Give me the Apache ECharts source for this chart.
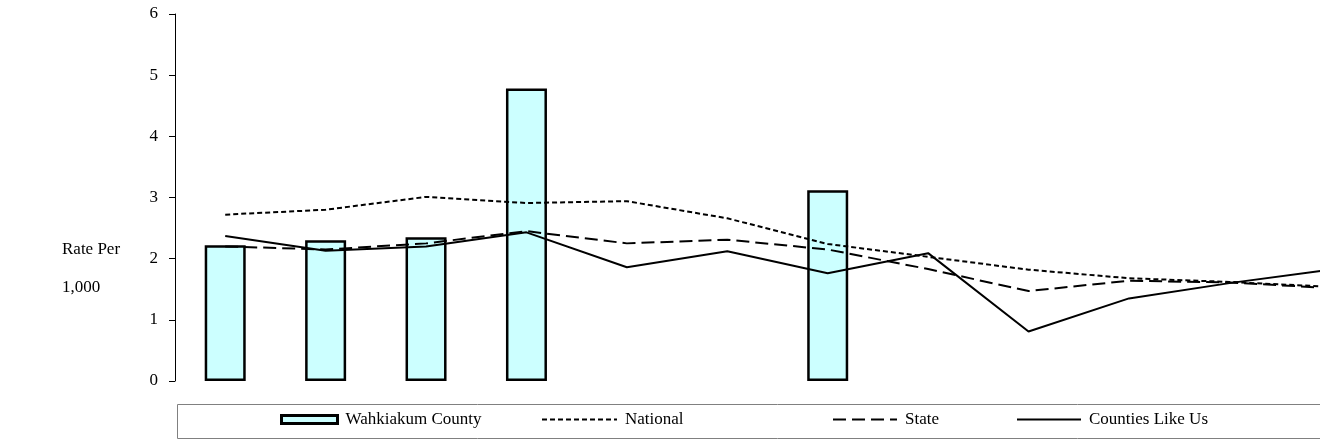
<!DOCTYPE html>
<html>
<head>
<meta charset="utf-8">
<script src="https://cdn.jsdelivr.net/npm/echarts@6/dist/echarts.min.js"></script>
<style>
  html, body { margin: 0; padding: 0; background: #fff; overflow: hidden; }
  /* the plot runs on past the right edge of the 1320px window, as in the original */
  #chart { width: 1380px; height: 441px; }
</style>
</head>
<body>
<div id="chart"></div>
<script>
// periods along the x axis (no labels are shown on the chart)
const periods = ['1', '2', '3', '4', '5', '6', '7', '8', '9', '10', '11', '12'];

const county = [2.22, 2.30, 2.35, 4.78, null, null, 3.12, null, null, null, null, null];
const national = [2.72, 2.80, 3.01, 2.91, 2.94, 2.66, 2.24, 2.03, 1.82, 1.68, 1.62, 1.54];
const state = [2.20, 2.15, 2.25, 2.45, 2.25, 2.31, 2.15, 1.83, 1.47, 1.64, 1.61, 1.52];
const likeUs = [2.37, 2.13, 2.20, 2.43, 1.86, 2.12, 1.76, 2.09, 0.81, 1.35, 1.60, 1.82];

const serif = 'Liberation Serif';
const chart = echarts.init(document.getElementById('chart'));

function legendAt(name, left, width) {
  const isBar = name === 'Wahkiakum County';
  return {
    data: [name],
    left: left,
    top: 411,
    itemWidth: width,
    itemHeight: 8,
    itemGap: 0,
    padding: 0,
    icon: isBar ? 'rect' : undefined,
    // bar icon gets a heavy outline; line icons lose the dot ECharts adds in the middle
    itemStyle: isBar
      ? { color: '#ccffff', borderColor: '#000', borderWidth: 3 }
      : { color: 'rgba(0,0,0,0)', borderWidth: 0 },
    textStyle: { fontFamily: serif, fontSize: 17, color: '#000', padding: [0, 0, 0, 3] }
  };
}

const option = {
  animation: false,
  title: {
    text: 'Rate Per\n1,000',
    left: 62,
    top: 231,
    padding: 0,
    textStyle: { fontFamily: serif, fontSize: 17, fontWeight: 'normal', color: '#000', lineHeight: 38 }
  },
  grid: { left: 175, top: 14, bottom: 60, right: 0 },
  legend: [
    legendAt('Wahkiakum County', 280, 56),
    legendAt('National', 541, 75),
    legendAt('State', 832, 64),
    legendAt('Counties Like Us', 1016, 64)
  ],
  graphic: [{
    type: 'rect',
    left: 175,
    top: 402,
    shape: { width: 1200, height: 34 },
    style: { fill: 'none', stroke: '#808080', lineWidth: 1 }
  }],
  xAxis: {
    type: 'category',
    data: periods,
    axisLine: { show: false },
    axisTick: { show: false },
    axisLabel: { show: false }
  },
  yAxis: {
    type: 'value',
    min: 0,
    max: 6,
    interval: 1,
    axisLine: { show: true, lineStyle: { color: '#000', width: 1 } },
    axisTick: { show: true, length: 6, lineStyle: { color: '#000' } },
    axisLabel: { fontFamily: serif, fontSize: 17, color: '#000', margin: 17 },
    splitLine: { show: false }
  },
  series: [
    {
      name: 'Wahkiakum County',
      type: 'bar',
      data: county,
      barWidth: 41,
      itemStyle: { color: '#ccffff', borderColor: '#000', borderWidth: 2.5 }
    },
    {
      name: 'National',
      type: 'line',
      data: national,
      symbol: 'none',
      lineStyle: { color: '#000', width: 2, type: [5, 3] },
      itemStyle: { color: '#000' }
    },
    {
      name: 'State',
      type: 'line',
      data: state,
      symbol: 'none',
      lineStyle: { color: '#000', width: 2, type: [13, 6] },
      itemStyle: { color: '#000' }
    },
    {
      name: 'Counties Like Us',
      type: 'line',
      data: likeUs,
      symbol: 'none',
      lineStyle: { color: '#000', width: 2 },
      itemStyle: { color: '#000' }
    }
  ]
};

chart.setOption(option);
</script>
</body>
</html>
